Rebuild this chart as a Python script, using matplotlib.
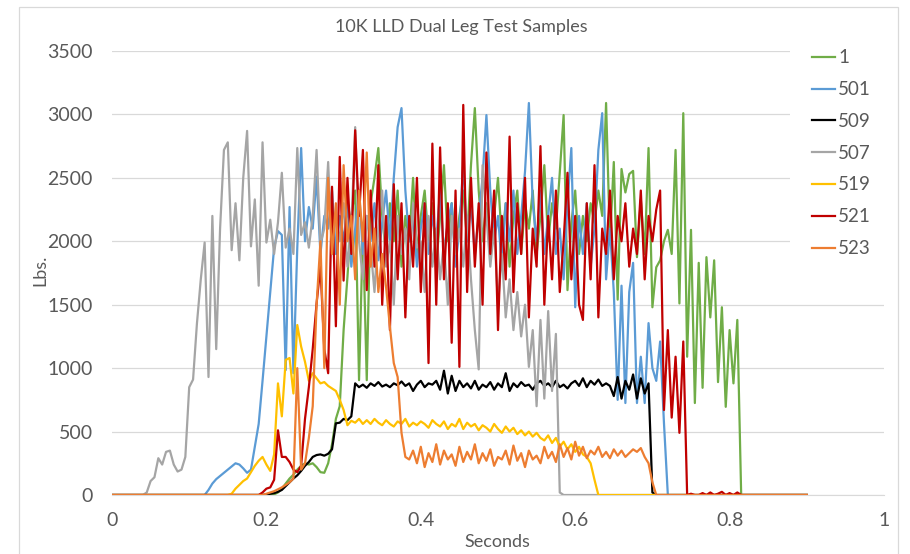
import numpy as np
import matplotlib
matplotlib.use("Agg")
import matplotlib.pyplot as plt
from matplotlib.patches import Rectangle

plt.rcParams['font.family'] = ['Lato', 'DejaVu Sans']

DT = 0.005
T_END = 0.9

labels = ["1", "501", "509", "507", "519", "521", "523"]
colors = ["#70AD47", "#5B9BD5", "#000000", "#A5A5A5", "#FFC000", "#C00000", "#ED7D31"]

start_1 = 0.205
vals_1 = [0, 5, 20, 50, 90, 130, 160, 200, 230, 250, 240, 250, 220, 180, 175, 250, 400, 600, 700,
          1300, 1720, 2200, 2400, 905, 2100, 905, 2300, 2500, 2735, 2200,
          1900, 2300, 2000, 2400, 1800, 2200, 2000, 2500, 1900, 2200, 2400, 2000, 2300, 1800, 2200,
          2600, 2000, 2300, 1900, 2200, 2400, 2000, 2600, 3050, 2400, 2000, 2300, 1900, 2200, 2500,
          2000, 2300, 1800, 2200, 2400, 1900, 2300, 2100, 2400, 1900, 2200, 2600, 2000, 2300, 2100,
          2540, 2995, 1615, 2145, 2400, 1900, 2200, 2000, 2300, 2145, 2400, 2200, 3090, 2000, 2625,
          1540, 2570, 2385, 2530, 2555, 1875, 2330, 1900, 2735, 1480, 1795, 1850, 2000, 2090, 1900,
          2720, 1510, 3010, 1090, 2090, 725, 1830, 845, 1875, 1400, 1850, 890, 1480, 695, 1300,
          880, 1380, 0]

start_501 = 0.115
vals_501 = [0, 0, 40, 90, 125, 150, 175, 200, 225, 250, 240, 210, 175, 200, 380, 560, 900, 1250,
            1600, 1950, 2080, 2050, 985, 2270, 960, 1950, 2735, 2000, 2270, 2100, 2510, 1900, 2200,
            2100, 2400, 1900, 2200, 2000, 2300, 1800, 2100, 2400, 1900, 2200, 2000, 2300, 1850, 2150,
            2400, 2000, 2500, 2900, 3050, 2400, 2000, 2200, 1800, 2100, 2300, 1900, 2200, 2000, 2400,
            1900, 2150, 2300, 1800, 2100, 2615, 2000, 2300, 1900, 2200, 2500, 2995, 2400, 2000, 2200,
            1800, 2300, 2000, 2400, 1900, 2200, 2550, 3090, 2300, 2000, 2400, 1900, 2200, 2500, 1900,
            2100, 1700, 2300, 2735, 1480, 2200, 1900, 2300, 1800, 2100, 2720, 3010, 1700, 2100, 1600,
            750, 1650, 725, 1600, 1830, 725, 1090, 725, 1355, 1000, 900, 1210, 565, 0]

start_509 = 0.195
vals_509 = [0, 5, 10, 15, 25, 40, 70, 100, 130, 155, 190, 230, 260, 300, 315, 320, 310, 325, 360,
            565, 570, 600, 590, 620, 880, 850, 870, 845, 880, 860, 890, 855, 870, 850, 880, 865,
            895, 860, 880, 820, 870, 900, 850, 880, 870, 900, 830, 980, 800, 940, 820, 900, 850,
            880, 840, 900, 830, 870, 850, 890, 830, 880, 850, 960, 820, 880, 850, 890, 860, 870,
            830, 880, 900, 860, 880, 850, 900, 850, 870, 840, 880, 900, 860, 920, 850, 900, 870,
            910, 860, 880, 860, 780, 930, 760, 900, 830, 950, 760, 920, 800, 880, 20, 0]

start_507 = 0.040
vals_507 = [0, 20, 110, 140, 290, 240, 340, 350, 240, 185, 200, 300, 850, 910, 1350, 1700, 1990,
            930, 2200, 1150, 2100, 2720, 2780, 1930, 2300, 1850, 2500, 2870, 1960, 2330, 1650, 2780,
            1990, 2170, 1900, 2150, 2540, 1950, 2100, 1900, 2735, 2050, 2150, 1950, 2200, 2720, 1980,
            2100, 2625, 1900, 2200, 2000, 2300, 1800, 2100, 2900, 2000, 1700, 2200, 1950, 1600, 2100,
            2400, 1800, 2000, 1500, 2200, 1900, 2100, 1700, 2300, 1950, 2000, 1600, 2200, 1800, 2100,
            1700, 2000, 1500, 2200, 1900, 2100, 1800, 2200, 1700, 1300, 990, 2600, 2200, 1800, 2100,
            1500, 1900, 1400, 1700, 1300, 1600, 1250, 1500, 1010, 1300, 700, 1380, 760, 1450, 820,
            1270, 20, 0]

start_519 = 0.150
vals_519 = [0, 10, 50, 80, 110, 130, 180, 230, 270, 300, 240, 190, 320, 880, 620, 1065, 1080, 800,
            1340, 1170, 1050, 900, 960, 920, 880, 890, 860, 840, 820, 750, 670, 550, 585, 570, 600,
            560, 590, 560, 600, 570, 550, 590, 560, 540, 580, 560, 600, 540, 570, 550, 580, 560, 530,
            590, 560, 540, 580, 520, 560, 540, 600, 520, 570, 540, 560, 510, 550, 530, 500, 560, 520,
            490, 540, 500, 530, 480, 510, 470, 500, 460, 490, 450, 430, 470, 410, 450, 380, 420, 360,
            400, 340, 380, 320, 300, 250, 120, 0]

start_521 = 0.190
vals_521 = [0, 20, 50, 60, 120, 510, 300, 300, 260, 200, 180, 230, 600, 850, 1150, 1510, 1800, 1150,
            960, 2430, 1330, 2665, 1690, 2500, 1900, 2875, 2200, 2720, 1615, 2400, 1800, 2600, 1500,
            2200, 1300, 2450, 1700, 2300, 1400, 2200, 1800, 2500, 1600, 2300, 1040, 2770, 1500, 2740,
            1700, 2300, 1200, 2400, 1010, 3075, 1600, 2500, 1800, 2300, 1500, 2700, 1900, 2400, 1300,
            2200, 1700, 2825, 1600, 2300, 1900, 2500, 1400, 2100, 1800, 2750, 1500, 2200, 1700, 2400,
            1600, 2000, 2540, 1700, 2200, 1500, 1380, 2300, 1700, 2600, 1400, 2100, 1900, 2400, 1700,
            2200, 2000, 2300, 1800, 2100, 1900, 2400, 1700, 2200, 2000, 2250, 2400, 670, 1300, 610,
            1090, 490, 1210, 0, 10, 0, 0, 15, 0, 20, 0, 10, 25, 0, 15, 0, 20, 0]

start_523 = 0.195
vals_523 = [0, 10, 20, 30, 45, 60, 80, 100, 130, 1000, 200, 250, 450, 700, 1500, 2000, 1000, 2500,
            1900, 2300, 1500, 2600, 2000, 2200, 1700, 2400, 2000, 2700, 1800, 2100, 1600, 1900, 1640,
            1325, 1040, 930, 490, 300, 280, 350, 250, 380, 220, 330, 260, 400, 240, 350, 280, 320,
            230, 380, 260, 340, 280, 400, 250, 330, 270, 360, 230, 300, 280, 350, 240, 390, 270, 330,
            220, 350, 280, 310, 250, 380, 290, 340, 260, 400, 300, 370, 280, 420, 310, 380, 290, 350,
            320, 380, 300, 340, 290, 360, 310, 350, 300, 330, 360, 340, 370, 300, 250, 100, 0]

series = [(start_1, vals_1), (start_501, vals_501), (start_509, vals_509), (start_507, vals_507),
          (start_519, vals_519), (start_521, vals_521), (start_523, vals_523)]

W, H = 910, 554
fig = plt.figure(figsize=(W / 100, H / 100), dpi=100)
ax = fig.add_axes([112 / W, 1 - 495 / H, (884 - 112) / W, (495 - 51) / H])

for (t0, v), lab, col in zip(series, labels, colors):
    v = np.asarray(v, dtype=float)
    t = t0 + DT * np.arange(len(v))
    t = np.concatenate([[0.0], t, [T_END]])
    y = np.concatenate([[0.0], v, [0.0]])
    ax.plot(t, y, color=col, lw=1.6, label=lab, solid_joinstyle='round', zorder=3)

ax.set_xlim(0, 1)
ax.set_ylim(0, 3500)
ax.set_xticks(np.arange(0, 1.01, 0.2))
ax.set_xticklabels(["0", "0.2", "0.4", "0.6", "0.8", "1"])
ax.set_yticks(np.arange(0, 3501, 500))
ax.yaxis.grid(True, color="#D9D9D9", lw=0.9)
ax.set_axisbelow(True)
for s in ["top", "right", "left"]:
    ax.spines[s].set_visible(False)
ax.spines["bottom"].set_color("#D9D9D9")
ax.tick_params(axis="x", length=0, labelsize=14, colors="#595959", pad=12)
ax.tick_params(axis="y", length=0, labelsize=14, colors="#595959", pad=14)
ax.set_xlabel("Seconds", fontsize=13, color="#595959", va="center")
ax.set_ylabel("Lbs.", fontsize=13, color="#595959", va="center")
ax.xaxis.set_label_coords((497 - 112) / 772, (495 - 542) / 444)
ax.yaxis.set_label_coords((40 - 112) / 772, (495 - 270) / 444)
fig.text(461 / W, 1 - 27 / H, "10K LLD Dual Leg Test Samples", ha="center", va="center",
         fontsize=13, color="#595959")

# white legend area hiding the gridlines behind it
fig.patches.append(Rectangle((790 / W, 1 - 266 / H), (892 - 790) / W, (266 - 36) / H,
                             transform=fig.transFigure, facecolor="white", edgecolor="none",
                             zorder=1))

leg = fig.legend(loc="upper left", bbox_to_anchor=(801 / W, 1 - 38 / H),
                 frameon=False, fontsize=13.5,
                 handlelength=1.23, handletextpad=0.16, labelspacing=0.79, borderpad=0.6,
                 borderaxespad=0)
for txt in leg.get_texts():
    txt.set_color("#595959")

fig.patches.append(Rectangle((19 / W, -0.02), (898 - 19) / W, 1 - 7 / H + 0.02,
                             transform=fig.transFigure, fill=False, edgecolor="#D9D9D9", lw=0.9))

fig.savefig("out.png", dpi=100)
